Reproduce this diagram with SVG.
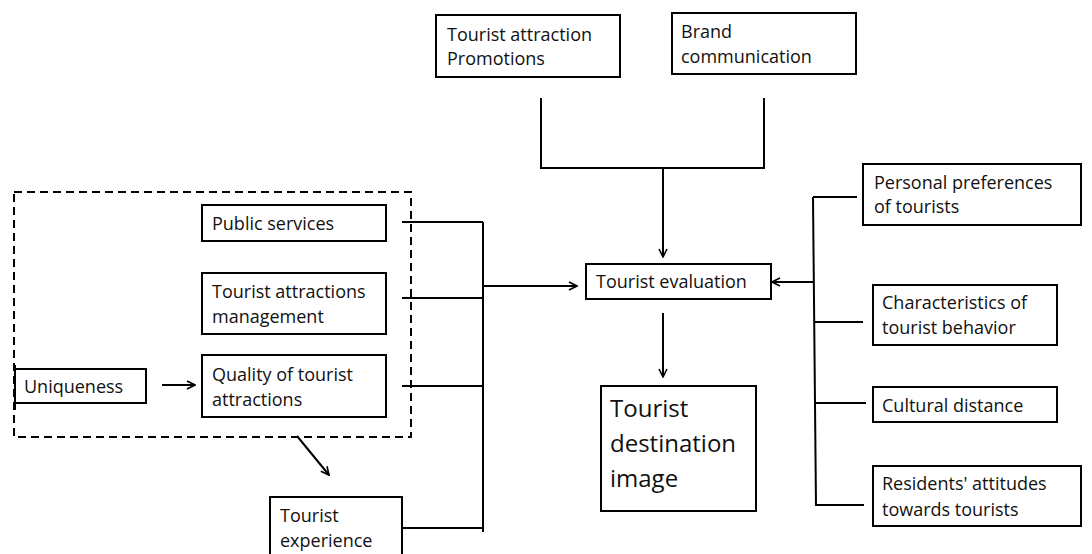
<svg xmlns="http://www.w3.org/2000/svg" width="1092" height="554" viewBox="0 0 1092 554">
<style>
.box{fill:#fff;stroke:#000;stroke-width:2}
.t{font-family:"Open Sans","Liberation Sans",sans-serif;font-size:18px;fill:#111}
.big{font-size:24px}
.ln{stroke:#000;stroke-width:2;fill:none}
.dash{fill:none;stroke:#000;stroke-width:2;stroke-dasharray:8 5}
</style>
<defs>
<marker id="ah" viewBox="0 0 10 10" refX="9" refY="5" markerWidth="10" markerHeight="10" markerUnits="userSpaceOnUse" orient="auto">
<path d="M1,1 L9,5 L1,9" fill="none" stroke="#000" stroke-width="1.6"/>
</marker>
</defs>
<rect width="1092" height="554" fill="#fff"/>
<rect class="dash" x="14" y="192" width="397" height="245"/>
<g id="connectors">
<polyline class="ln" points="541,98 541,168 764,168 764,98"/>
<line class="ln" x1="663" y1="168" x2="663" y2="257" marker-end="url(#ah)"/>
<line class="ln" x1="663" y1="313" x2="663" y2="377" marker-end="url(#ah)"/>
<line class="ln" x1="402" y1="222" x2="483" y2="222"/>
<line class="ln" x1="402" y1="298" x2="483" y2="298"/>
<line class="ln" x1="402" y1="386" x2="483" y2="386"/>
<line class="ln" x1="402" y1="528" x2="483" y2="528"/>
<line class="ln" x1="483" y1="222" x2="483" y2="532"/>
<line class="ln" x1="483" y1="286" x2="577" y2="286" marker-end="url(#ah)"/>
<line class="ln" x1="162" y1="385" x2="195" y2="385" marker-end="url(#ah)"/>
<line class="ln" x1="297" y1="436" x2="329" y2="475" marker-end="url(#ah)"/>
<line class="ln" x1="813" y1="197" x2="816" y2="506"/>
<line class="ln" x1="813" y1="197" x2="857" y2="197"/>
<line class="ln" x1="814" y1="322" x2="863" y2="322"/>
<line class="ln" x1="815" y1="403" x2="866" y2="403"/>
<line class="ln" x1="816" y1="505" x2="864" y2="505"/>
<line class="ln" x1="813" y1="282" x2="772" y2="282" marker-end="url(#ah)"/>
</g>
<g id="promotions">
<rect class="box" x="436" y="15" width="184" height="62"/>
<text class="t" x="447" y="41">Tourist attraction</text>
<text class="t" x="447" y="65">Promotions</text>
</g>
<g id="brand">
<rect class="box" x="672" y="13" width="184" height="61"/>
<text class="t" x="681" y="38">Brand</text>
<text class="t" x="681" y="63">communication</text>
</g>
<g id="public-services">
<rect class="box" x="202" y="205" width="184" height="36"/>
<text class="t" x="212" y="230">Public services</text>
</g>
<g id="management">
<rect class="box" x="202" y="273" width="184" height="61"/>
<text class="t" x="212" y="298">Tourist attractions</text>
<text class="t" x="212" y="323">management</text>
</g>
<g id="quality">
<rect class="box" x="202" y="355" width="184" height="62"/>
<text class="t" x="212" y="381">Quality of tourist</text>
<text class="t" x="212" y="406">attractions</text>
</g>
<g id="uniqueness">
<rect class="box" x="15" y="369" width="131" height="34"/>
<line class="ln" x1="15" y1="365" x2="15" y2="410"/>
<text class="t" x="24" y="393">Uniqueness</text>
</g>
<g id="experience">
<rect class="box" x="270" y="497" width="132" height="70"/>
<text class="t" x="280" y="522">Tourist</text>
<text class="t" x="280" y="547">experience</text>
</g>
<g id="evaluation">
<rect class="box" x="586" y="264" width="185" height="35"/>
<text class="t" x="596" y="288">Tourist evaluation</text>
</g>
<g id="destination-image">
<rect class="box" x="601" y="386" width="155" height="125"/>
<text class="t big" x="610" y="417">Tourist</text>
<text class="t big" x="610" y="452">destination</text>
<text class="t big" x="610" y="487">image</text>
</g>
<g id="preferences">
<rect class="box" x="863" y="164" width="218" height="61"/>
<text class="t" x="874" y="189">Personal preferences</text>
<text class="t" x="874" y="213">of tourists</text>
</g>
<g id="characteristics">
<rect class="box" x="873" y="285" width="184" height="60"/>
<text class="t" x="882" y="309">Characteristics of</text>
<text class="t" x="882" y="334">tourist behavior</text>
</g>
<g id="cultural">
<rect class="box" x="873" y="387" width="184" height="35"/>
<text class="t" x="882" y="412">Cultural distance</text>
</g>
<g id="residents">
<rect class="box" x="873" y="466" width="208" height="60"/>
<text class="t" x="882" y="490">Residents' attitudes</text>
<text class="t" x="882" y="516">towards tourists</text>
</g>
</svg>
